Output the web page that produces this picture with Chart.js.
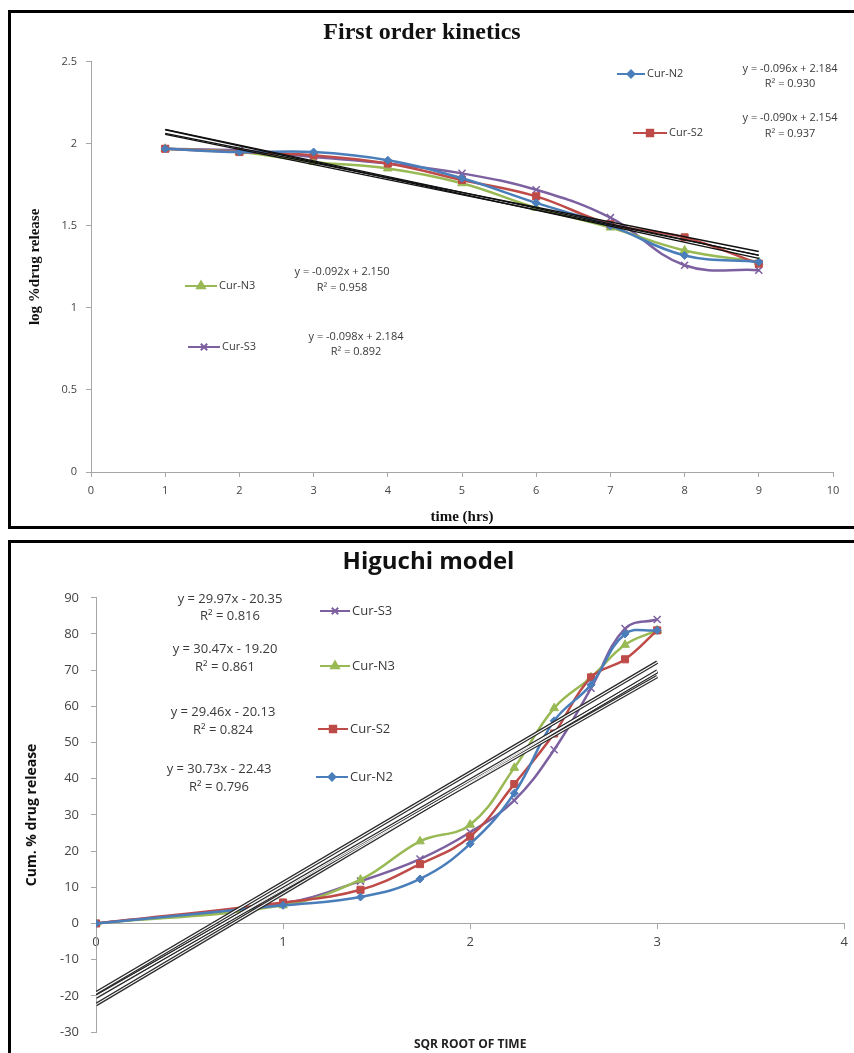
<!DOCTYPE html>
<html lang="en">
<head>
  <meta charset="utf-8">
  <title>First order kinetics / Higuchi model</title>
  <script src="https://cdn.jsdelivr.net/npm/chart.js@4.4.3/dist/chart.umd.min.js"></script>
  <style>
    html, body {
      margin: 0;
      padding: 0;
      background: #fff;
      width: 854px;
      height: 1053px;
      overflow: hidden;
    }
    .panel {
      position: absolute;
      box-sizing: border-box;
      border: 3px solid #000;
      border-right: none;
      background: #fff;
    }
    #panelTop {
      left: 8px;
      top: 10px;
      width: 846px;
      height: 519px;
    }
    #panelBottom {
      left: 8px;
      top: 540px;
      width: 846px;
      height: 520px;
      border-bottom: none;
    }
    .panel canvas {
      display: block;
    }
  </style>
</head>
<body>
  <div class="panel" id="panelTop">
    <canvas id="firstOrderChart" width="843" height="513"></canvas>
  </div>
  <div class="panel" id="panelBottom">
    <canvas id="higuchiChart" width="843" height="517"></canvas>
  </div>

  <script>
    // ---- First order kinetics: log % drug release vs time (hrs)
    const timeHrs = [1, 2, 3, 4, 5, 6, 7, 8, 9];
    const firstN2 = [1.97, 1.95, 1.95, 1.90, 1.79, 1.64, 1.50, 1.32, 1.28];
    const firstS2 = [1.97, 1.95, 1.93, 1.88, 1.78, 1.68, 1.51, 1.43, 1.27];
    const firstN3 = [1.97, 1.95, 1.89, 1.85, 1.76, 1.61, 1.49, 1.35, 1.28];
    const firstS3 = [1.97, 1.96, 1.92, 1.88, 1.82, 1.72, 1.55, 1.26, 1.23];

    // trendlines as printed on the chart (slope, intercept)
    const firstFits = {
      N2: { m: -0.096, b: 2.184, r2: '0.930' },
      S2: { m: -0.090, b: 2.154, r2: '0.937' },
      N3: { m: -0.092, b: 2.150, r2: '0.958' },
      S3: { m: -0.098, b: 2.184, r2: '0.892' }
    };

    // ---- Higuchi model: cum. % drug release vs square root of time
    const sqrtTime = [0, 1, 1.414, 1.732, 2, 2.236, 2.449, 2.646, 2.828, 3];
    const higN2 = [0, 5.0, 7.3, 12.3, 22.0, 36.0, 56.0, 66.0, 80.0, 81.0];
    const higS2 = [0, 5.8, 9.3, 16.4, 24.0, 38.5, 52.5, 68.0, 73.0, 81.0];
    const higN3 = [0, 5.0, 12.1, 22.7, 27.3, 43.0, 59.5, 68.0, 77.0, 81.0];
    const higS3 = [0, 5.5, 11.7, 17.8, 25.2, 34.0, 48.0, 65.0, 81.5, 84.0];

    const higFits = {
      S3: { m: 29.97, b: -20.35, r2: '0.816' },
      N3: { m: 30.47, b: -19.20, r2: '0.861' },
      S2: { m: 29.46, b: -20.13, r2: '0.824' },
      N2: { m: 30.73, b: -22.43, r2: '0.796' }
    };

    const seriesStyle = {
      N2: { color: '#4a7ebb', point: 'rectRot', radius: 4 },
      S2: { color: '#be4b48', point: 'rect', radius: 5 },
      N3: { color: '#98b954', point: 'triangle', radius: 5 },
      S3: { color: '#7d60a0', point: 'crossRot', radius: 5 }
    };

    const SANS = '"Open Sans", "Liberation Sans", sans-serif';
    const SERIF = '"Liberation Serif", "DejaVu Serif", serif';

    function pairs(xs, ys) {
      return xs.map((x, i) => ({ x: x, y: ys[i] }));
    }

    function fitLine(fit, x0, x1) {
      return [{ x: x0, y: fit.m * x0 + fit.b }, { x: x1, y: fit.m * x1 + fit.b }];
    }

    function fmtEq(fit) {
      const sign = fit.b < 0 ? ' - ' : ' + ';
      const m = Math.abs(fit.m) < 1 ? fit.m.toFixed(3) : fit.m.toFixed(2);
      const b = Math.abs(fit.b) < 10 ? Math.abs(fit.b).toFixed(3) : Math.abs(fit.b).toFixed(2);
      return 'y = ' + m + 'x' + sign + b;
    }

    function curve(key, label, xs, ys, width) {
      const s = seriesStyle[key];
      return {
        label: label,
        data: pairs(xs, ys),
        borderColor: s.color,
        backgroundColor: s.color,
        borderWidth: width,
        pointStyle: s.point,
        pointRadius: s.radius,
        pointBorderWidth: s.point === 'crossRot' ? 1.5 : 1,
        pointBackgroundColor: s.color,
        pointBorderColor: s.color,
        tension: 0.4,
        order: 10
      };
    }

    // draws the scattered legend keys and trendline labels
    const notesPlugin = {
      id: 'notes',
      afterDraw(chart, args, opts) {
        const ctx = chart.ctx;
        ctx.save();
        (opts.items || []).forEach(it => {
          if (it.type === 'key') {
            const s = seriesStyle[it.series];
            ctx.strokeStyle = s.color;
            ctx.lineWidth = 2;
            ctx.beginPath();
            ctx.moveTo(it.x1, it.y);
            ctx.lineTo(it.x2, it.y);
            ctx.stroke();
            ctx.fillStyle = s.color;
            Chart.helpers.drawPoint(ctx, {
              pointStyle: s.point,
              radius: s.radius - 0.5,
              rotation: 0,
              borderWidth: 1.2
            }, (it.x1 + it.x2) / 2, it.y);
            ctx.fillStyle = opts.color;
            ctx.font = opts.font;
            ctx.textAlign = 'left';
            ctx.textBaseline = 'middle';
            ctx.fillText(it.text, it.x2 + 2, it.y);
          } else {
            ctx.fillStyle = opts.color;
            ctx.font = opts.font;
            ctx.textAlign = 'center';
            ctx.textBaseline = 'middle';
            ctx.fillText(it.text, it.x, it.y);
          }
        });
        ctx.restore();
      }
    };

    Chart.register(notesPlugin);

    function axisGrid() {
      return {
        drawOnChartArea: false,
        drawTicks: true,
        tickLength: 5,
        color: '#a6a6a6'
      };
    }

    // ---------- top chart ----------
    const topDatasets = [
      curve('N2', 'Cur-N2', timeHrs, firstN2, 2.5),
      curve('S2', 'Cur-S2', timeHrs, firstS2, 2.5),
      curve('N3', 'Cur-N3', timeHrs, firstN3, 2.5),
      curve('S3', 'Cur-S3', timeHrs, firstS3, 2.5)
    ];
    Object.keys(firstFits).forEach(k => {
      topDatasets.push({
        label: 'Linear (Cur-' + k + ')',
        data: fitLine(firstFits[k], 1, 9),
        borderColor: '#111',
        borderWidth: 1.4,
        pointRadius: 0,
        tension: 0,
        order: 1
      });
    });

    new Chart(document.getElementById('firstOrderChart'), {
      type: 'line',
      data: { datasets: topDatasets },
      options: {
        responsive: false,
        animation: false,
        layout: { padding: { left: 0, right: 21, top: 0, bottom: 0 } },
        plugins: {
          legend: { display: false },
          tooltip: { enabled: false },
          title: {
            display: true,
            text: 'First order kinetics',
            color: '#111',
            font: { family: SERIF, size: 24, weight: 'bold' },
            padding: { top: 5, bottom: 15 }
          },
          notes: {
            font: '11px ' + SANS,
            color: '#3a3a3a',
            items: [
              { type: 'key', series: 'N2', text: 'Cur-N2', x1: 606, x2: 634, y: 61 },
              { type: 'text', text: fmtEq(firstFits.N2), x: 779, y: 56 },
              { type: 'text', text: 'R² = ' + firstFits.N2.r2, x: 779, y: 71 },
              { type: 'key', series: 'S2', text: 'Cur-S2', x1: 622, x2: 656, y: 120 },
              { type: 'text', text: fmtEq(firstFits.S2), x: 779, y: 105 },
              { type: 'text', text: 'R² = ' + firstFits.S2.r2, x: 779, y: 121 },
              { type: 'key', series: 'N3', text: 'Cur-N3', x1: 174, x2: 206, y: 273 },
              { type: 'text', text: fmtEq(firstFits.N3), x: 331, y: 259 },
              { type: 'text', text: 'R² = ' + firstFits.N3.r2, x: 331, y: 275 },
              { type: 'key', series: 'S3', text: 'Cur-S3', x1: 177, x2: 209, y: 334 },
              { type: 'text', text: fmtEq(firstFits.S3), x: 345, y: 324 },
              { type: 'text', text: 'R² = ' + firstFits.S3.r2, x: 345, y: 339 }
            ]
          }
        },
        scales: {
          x: {
            type: 'linear',
            min: 0,
            max: 10,
            ticks: { stepSize: 1, padding: 7, color: '#444', font: { family: SANS, size: 11 } },
            grid: axisGrid(),
            border: { display: true, color: '#a6a6a6' },
            title: {
              display: true,
              text: 'time (hrs)',
              color: '#111',
              font: { family: SERIF, size: 15, weight: 'bold' },
              padding: { top: 2, bottom: 0 }
            },
            afterFit(scale) { scale.height = 54; }
          },
          y: {
            type: 'linear',
            min: 0,
            max: 2.5,
            ticks: {
              stepSize: 0.5,
              padding: 9,
              color: '#444',
              font: { family: SANS, size: 11 },
              callback: v => String(v)
            },
            grid: axisGrid(),
            border: { display: true, color: '#a6a6a6' },
            title: {
              display: true,
              text: 'log %drug release',
              color: '#111',
              font: { family: SERIF, size: 15, weight: 'bold' },
              padding: { top: 15, bottom: 0 }
            },
            afterFit(scale) { scale.width = 80; }
          }
        }
      }
    });

    // ---------- bottom chart ----------
    const botDatasets = [
      curve('N2', 'Cur-N2', sqrtTime, higN2, 2.5),
      curve('S2', 'Cur-S2', sqrtTime, higS2, 2.5),
      curve('N3', 'Cur-N3', sqrtTime, higN3, 2.5),
      curve('S3', 'Cur-S3', sqrtTime, higS3, 2.5)
    ];
    Object.keys(higFits).forEach(k => {
      const pts = fitLine(higFits[k], 0, 3);
      // outer dark stroke
      botDatasets.push({
        label: 'Linear (Cur-' + k + ')',
        data: pts,
        borderColor: '#2a2a2a',
        borderWidth: 3.6,
        pointRadius: 0,
        tension: 0,
        order: 2
      });
      // thin white core gives the double-line look
      botDatasets.push({
        label: '',
        data: pts,
        borderColor: '#ffffff',
        borderWidth: 1.1,
        pointRadius: 0,
        tension: 0,
        order: 1
      });
    });

    new Chart(document.getElementById('higuchiChart'), {
      type: 'line',
      data: { datasets: botDatasets },
      options: {
        responsive: false,
        animation: false,
        layout: { padding: { left: 0, right: 8, top: 0, bottom: 0 } },
        plugins: {
          legend: { display: false },
          tooltip: { enabled: false },
          title: {
            display: true,
            text: 'Higuchi model',
            color: '#111',
            font: { family: SANS, size: 24, weight: 'bold' },
            padding: { top: 5, bottom: 21 }
          },
          notes: {
            font: '13px ' + SANS,
            color: '#3a3a3a',
            items: [
              { type: 'text', text: fmtEq(higFits.S3), x: 219, y: 56 },
              { type: 'text', text: 'R² = ' + higFits.S3.r2, x: 219, y: 73 },
              { type: 'key', series: 'S3', text: 'Cur-S3', x1: 309, x2: 339, y: 68 },
              { type: 'text', text: fmtEq(higFits.N3), x: 214, y: 106 },
              { type: 'text', text: 'R² = ' + higFits.N3.r2, x: 214, y: 124 },
              { type: 'key', series: 'N3', text: 'Cur-N3', x1: 309, x2: 339, y: 123 },
              { type: 'text', text: fmtEq(higFits.S2), x: 212, y: 169 },
              { type: 'text', text: 'R² = ' + higFits.S2.r2, x: 212, y: 187 },
              { type: 'key', series: 'S2', text: 'Cur-S2', x1: 307, x2: 337, y: 186 },
              { type: 'text', text: fmtEq(higFits.N2), x: 208, y: 226 },
              { type: 'text', text: 'R² = ' + higFits.N2.r2, x: 208, y: 244 },
              { type: 'key', series: 'N2', text: 'Cur-N2', x1: 305, x2: 337, y: 234 }
            ]
          }
        },
        scales: {
          x: {
            type: 'linear',
            position: { y: 0 },
            min: 0,
            max: 4,
            ticks: { stepSize: 1, padding: 6, color: '#444', font: { family: SANS, size: 13 } },
            grid: axisGrid(),
            border: { display: true, color: '#a6a6a6' }
          },
          x2: {
            type: 'linear',
            position: 'bottom',
            min: 0,
            max: 4,
            ticks: { display: false },
            grid: { display: false },
            border: { display: false },
            title: {
              display: true,
              text: 'SQR ROOT OF TIME',
              color: '#222',
              font: { family: SANS, size: 12, weight: 'bold' },
              padding: { top: 0, bottom: 8 }
            },
            afterFit(scale) { scale.height = 28; }
          },
          y: {
            type: 'linear',
            min: -30,
            max: 90,
            ticks: { stepSize: 10, padding: 12, color: '#444', font: { family: SANS, size: 13 } },
            grid: axisGrid(),
            border: { display: true, color: '#a6a6a6' },
            title: {
              display: true,
              text: 'Cum. % drug release',
              color: '#111',
              font: { family: SANS, size: 14, weight: 'bold' },
              padding: { top: 13, bottom: 0 }
            },
            afterFit(scale) { scale.width = 85; }
          }
        }
      }
    });
  </script>
</body>
</html>
